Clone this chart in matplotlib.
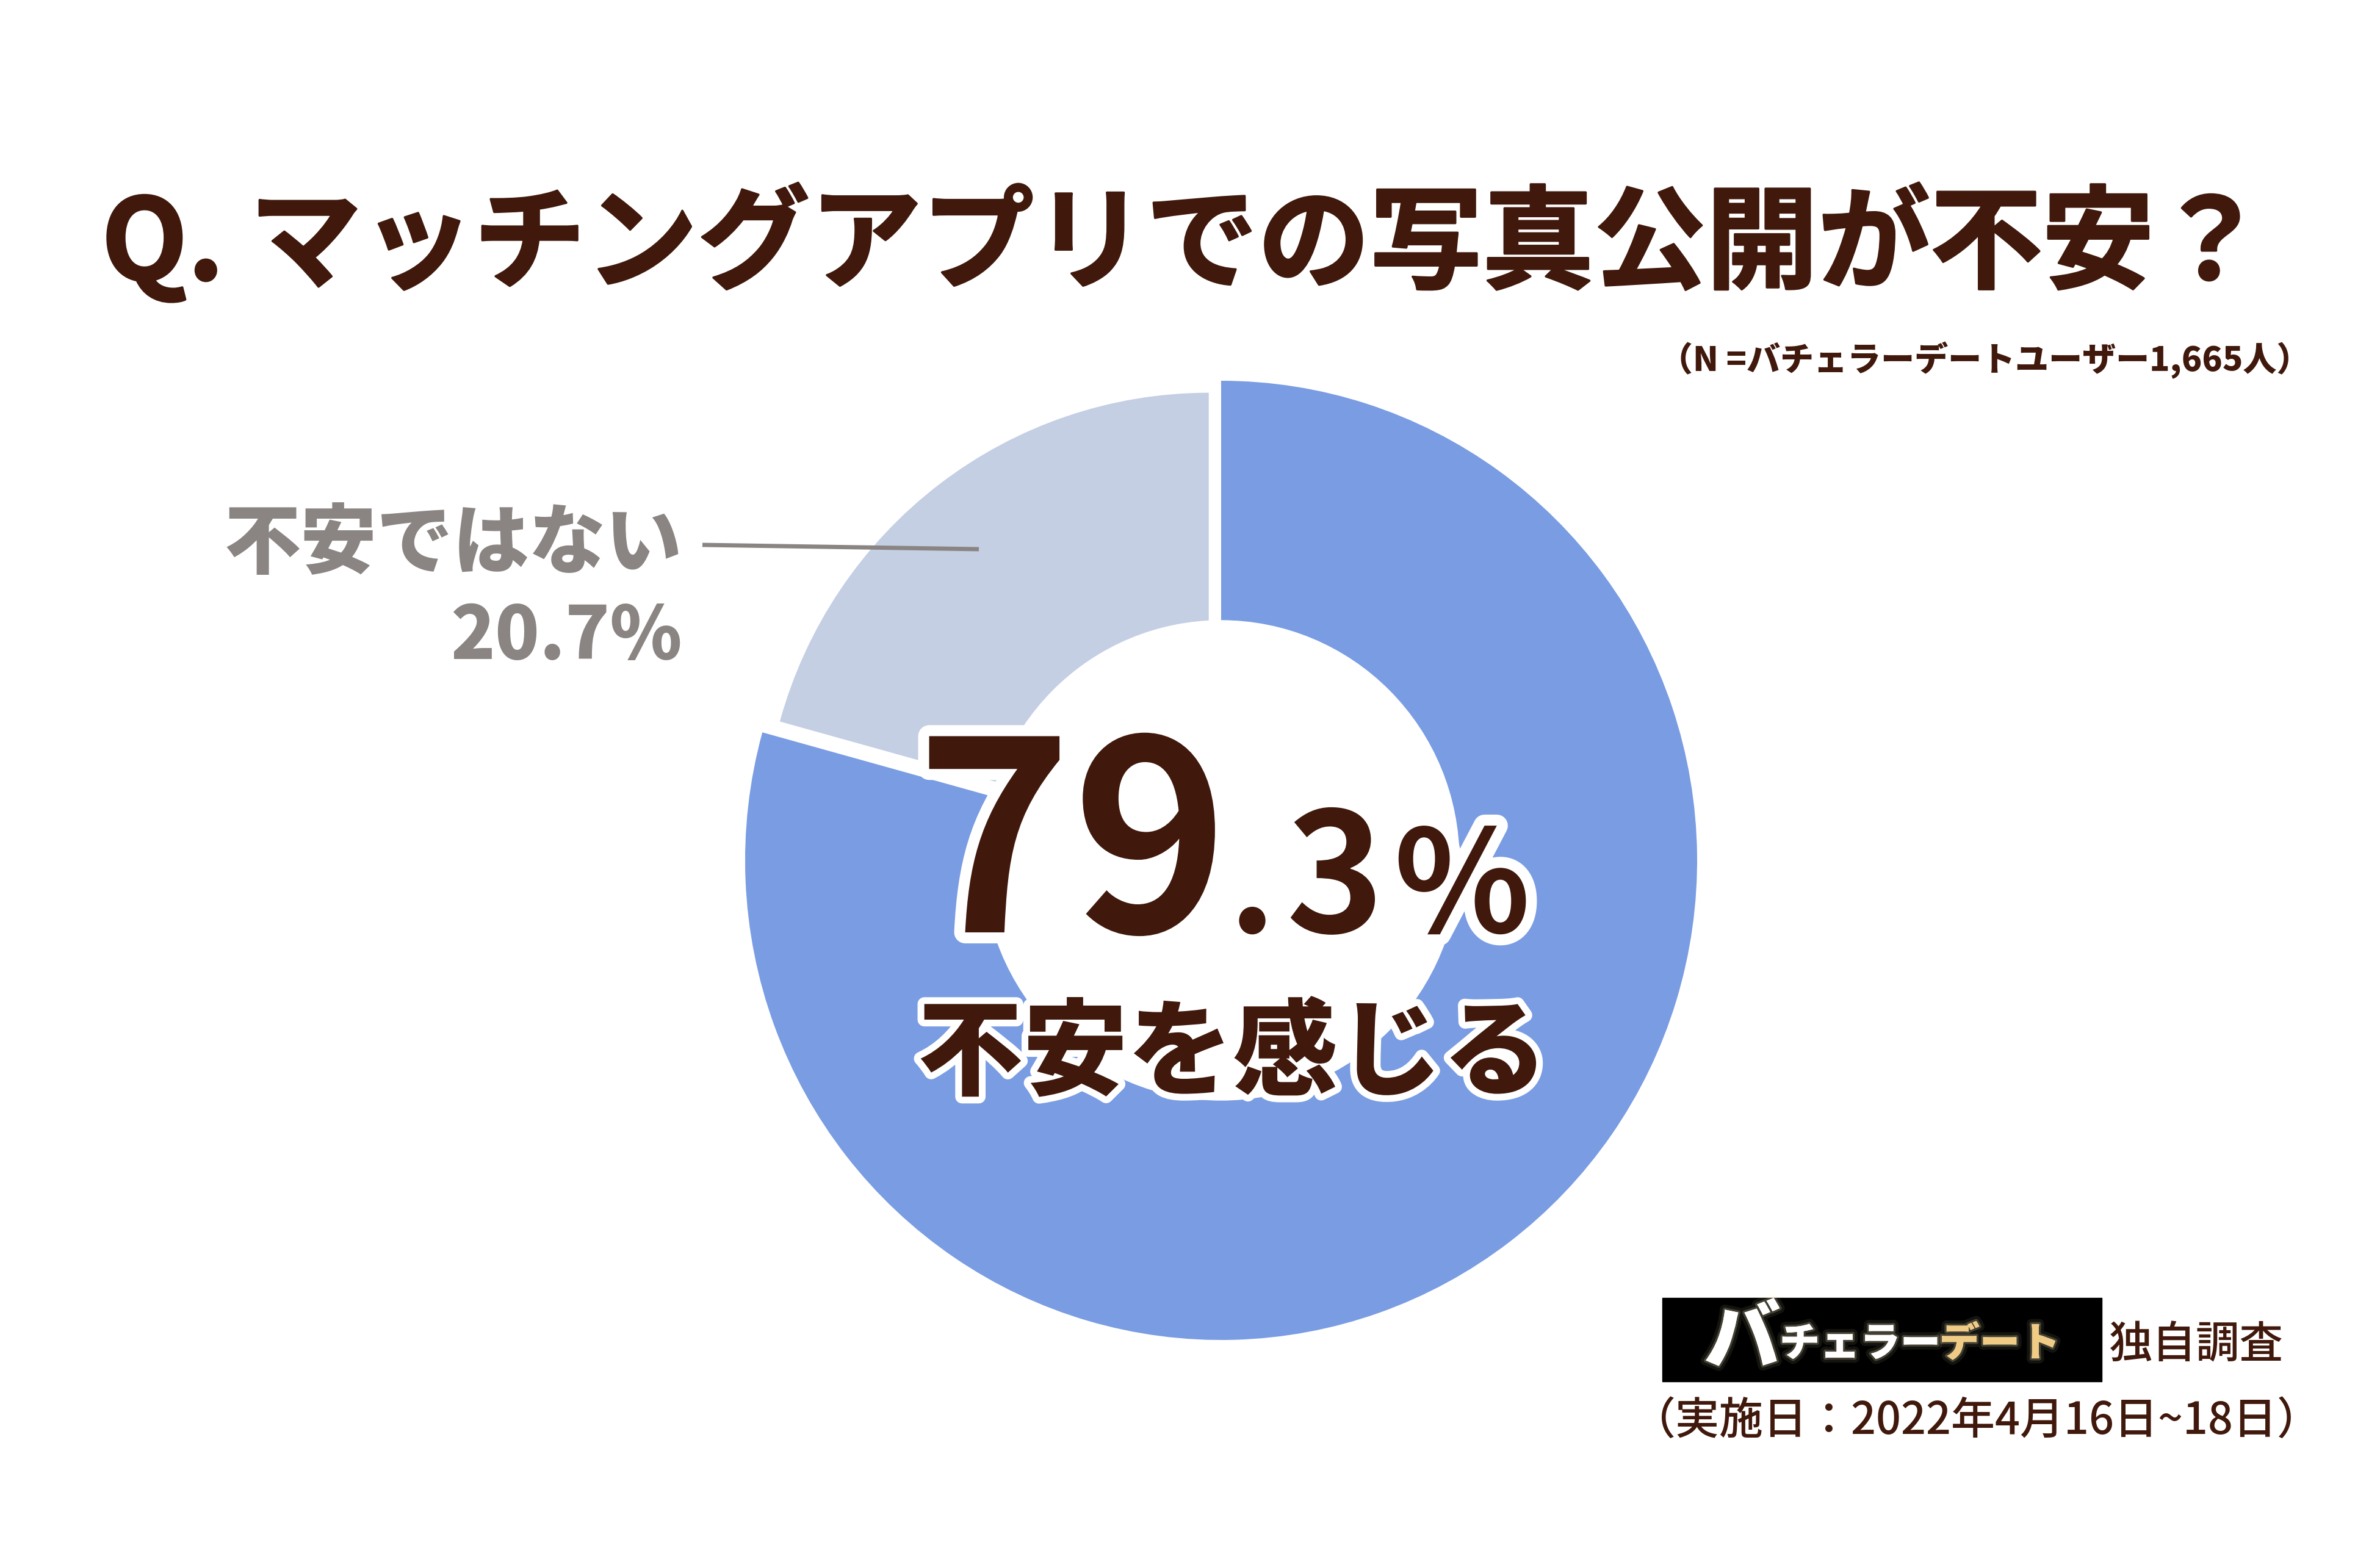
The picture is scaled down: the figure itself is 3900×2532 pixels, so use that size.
import matplotlib
matplotlib.use("Agg")
import matplotlib.pyplot as plt
import matplotlib.patheffects as pe
from matplotlib.patches import Circle, Rectangle

plt.rcParams['font.family'] = ['Noto Sans CJK JP', 'DejaVu Sans']

W, H = 3900, 2532

# data
shares = [79.3, 20.7]
share_colors = ['#799CE3', '#C4CFE4']
title = 'Q. マッチングアプリでの写真公開が不安？'
sample = '（N =バチェラーデートユーザー1,665人）'
minor_label = '不安ではない'
minor_value = '20.7%'
major_label = '不安を感じる'
source = '独自調査'
survey_date = '（実施日：2022年4月16日~18日）'

BROWN = '#40190C'
GRAY = '#8A8583'

cx, cy, rx, ry = 2001, 1410, 780, 786

fig = plt.figure(figsize=(W / 100, H / 100), dpi=100, facecolor='white')
ax = fig.add_axes([0, 0, 1, 1])


def put(x, y, s, px, color=BROWN, weight='bold', ha='center', va='center', stroke=0, **kw):
    fx = []
    if stroke:
        fx = [pe.withStroke(linewidth=stroke, foreground='white')]
    return fig.text(x / W, 1 - y / H, s, fontsize=px * 0.72, color=color, fontweight=weight,
                    ha=ha, va=va, path_effects=fx, zorder=10, **kw)


# blue ring first, then the pale slice which is smaller and moved out
ax.pie(shares, colors=[share_colors[0], 'none'], startangle=90, counterclock=False)
ax.pie(shares, colors=['none', share_colors[1]], startangle=90, counterclock=False,
       radius=0.935, center=(-0.026, 0.04))
ax.add_patch(Circle((0, 0), 0.5, color='white', zorder=5))

ax.plot([(1151 - cx) / rx, (1604 - cx) / rx], [(cy - 893) / ry, (cy - 900) / ry],
        color=GRAY, lw=5, solid_capstyle='butt')

# logo box
ax.add_patch(Rectangle(((2724 - cx) / rx, (cy - 2264) / ry), 720 / rx, 137 / ry,
                       color='black', zorder=3))

ax.set_aspect('auto')
ax.set_xlim(-cx / rx, (W - cx) / rx)
ax.set_ylim((cy - H) / ry, cy / ry)
ax.axis('off')

t = put(1940, 400, title, 183.6)
t.set_path_effects([pe.withStroke(linewidth=2.5, foreground=BROWN)])
put(3785, 590, sample, 55, weight='black', ha='right')

put(1118, 893, minor_label, 125, color=GRAY, weight='black', ha='right')
put(1118, 1045, minor_value, 120, color=GRAY, weight='black', ha='right')

put(1757, 1528, '79', 434, va='baseline', stroke=26)
put(2052, 1528, '.', 236, va='baseline', stroke=26)
put(2188, 1528, '3', 272, va='baseline', stroke=26)
put(2396, 1528, '%', 232, va='baseline', stroke=26)
put(2020, 1730, major_label, 172, weight='black', stroke=16)

glow = [pe.withStroke(linewidth=12, foreground='#FFF3C0', alpha=0.08),
        pe.withStroke(linewidth=5, foreground='#FFF3C0', alpha=0.2)]
t = put(2855, 2197, 'バ', 125, color='white', weight='black')
t.set_path_effects(glow)
t = put(3048, 2203, 'チェラー', 66, color='white', weight='black')
t.set_path_effects(glow)
t = put(3277, 2203, 'デート', 66, color='#EFCB86', weight='black')
t.set_path_effects(glow)

put(3742, 2206, source, 71.5, weight='medium', ha='right')
put(3804, 2329, survey_date, 72, weight='medium', ha='right')

fig.savefig('out.png', dpi=100)
